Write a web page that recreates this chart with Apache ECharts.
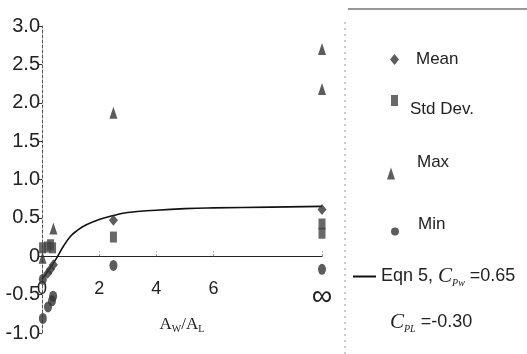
<!DOCTYPE html>
<html>
<head>
<meta charset="utf-8">
<script src="https://cdn.jsdelivr.net/npm/echarts@6/dist/echarts.min.js"></script>
<style>html,body{margin:0;padding:0;background:#fff}#c{width:527px;height:354px}</style>
</head>
<body>
<div id="c"></div>
<script>
// ---- data ----
const INF = 9.8; // position of the "∞" tick on the x axis
const meanX = [0.2, 0.3, 0.4, 2.5, INF];
const meanY = [-0.22, -0.17, -0.11, 0.47, 0.61];
const stdX = [0.02, 0.19, 0.3, 0.37, 2.5, INF, INF];
const stdY = [0.11, 0.12, 0.15, 0.11, 0.25, 0.30, 0.42];
const maxX = [0.02, 0.4, 2.5, INF, INF];
const maxY = [-0.02, 0.36, 1.87, 2.18, 2.70];
const minX = [0.03, 0.39, 0.35, 0.21, 0.03, 2.5, INF];
const minY = [-0.30, -0.52, -0.58, -0.66, -0.81, -0.12, -0.17];
const eqnX = [0, 0.25, 0.5, 0.75, 1.0, 1.25, 1.5, 2.0, 2.5, 3.0, 4.0, 5.0, 6.0, 8.0, INF];
const eqnY = [-0.30, -0.17, -0.03, 0.13, 0.26, 0.34, 0.40, 0.48, 0.53, 0.57, 0.60, 0.62, 0.63, 0.64, 0.65];
const xTickValues = [0, 2, 4, 6, INF];
const xTickLabels = ['0', '2', '4', '6', '∞'];
const yMin = -1.0, yMax = 3.0, yStep = 0.5;

const zip = (xs, ys) => xs.map((x, i) => [x, ys[i]]);
const INK = '#333';
const FONT = 'Liberation Sans';
const SERIF = 'Liberation Serif';

// legend text token with a vertical offset (dy > 0 moves text down) and a left gap
const legendText = (dy, gapLeft) => ({
  formatter: n => '{t|' + n + '}',
  textStyle: {
    rich: {
      t: { fontFamily: FONT, fontSize: 17, lineHeight: 18, color: '#222',
           padding: [dy > 0 ? 2 * dy : 0, 0, dy < 0 ? -2 * dy : 0, gapLeft] }
    }
  }
});

const chart = echarts.init(document.getElementById('c'));
chart.setOption({
  animation: false,
  backgroundColor: '#fff',
  grid: { left: 42, right: 205, top: 26, bottom: 21, containLabel: false, outerBoundsMode: 'none' },
  xAxis: {
    type: 'value', min: 0, max: INF,
    axisLine: { onZero: true, lineStyle: { color: '#222', width: 1.2 } },
    axisTick: { show: true, inside: true, length: 5, customValues: [2, 4, 6, INF],
                lineStyle: { color: '#888', type: [2, 2] } },
    axisLabel: {
      customValues: xTickValues,
      margin: -53,
      color: '#222', fontFamily: FONT, fontSize: 18,
      formatter: v => {
        const i = xTickValues.findIndex(t => Math.abs(t - v) < 1e-6);
        const s = i >= 0 ? xTickLabels[i] : '';
        return s === '∞' ? '{inf|∞}' : s;
      },
      rich: { inf: { fontFamily: FONT, fontSize: 29, color: '#222', padding: [2, 0, 0, 0] } }
    },
    splitLine: { show: false },
    name: '{a|A}{s|W}{a|/A}{s|L}',
    nameLocation: 'middle', nameGap: -21,
    nameTextStyle: {
      rich: {
        a: { fontFamily: SERIF, fontSize: 17, color: '#222' },
        s: { fontFamily: SERIF, fontSize: 10, color: '#222', padding: [10, 0, 0, 0] }
      }
    }
  },
  yAxis: {
    type: 'value', min: yMin, max: yMax, interval: yStep,
    axisLine: { show: true, onZero: false, lineStyle: { color: '#555', width: 1, type: [3, 2] } },
    axisTick: { show: true, length: 3, lineStyle: { color: '#333' } },
    axisLabel: {
      margin: 2, color: '#222', fontFamily: FONT, fontSize: 20,
      formatter: v => (Math.abs(v) < 1e-9 ? '0' : v.toFixed(1))
    },
    splitLine: { show: false }
  },
  legend: [
    Object.assign({ data: ['Mean'], left: 390, top: 51, padding: 0, icon: 'diamond', itemWidth: 9, itemHeight: 11 },
      legendText(0, 12)),
    Object.assign({ data: ['Std Dev.'], left: 391, top: 83, padding: 0, icon: 'rect', itemWidth: 7, itemHeight: 11 },
      legendText(9, 7)),
    Object.assign({ data: ['Max'], left: 387, top: 154, padding: 0, icon: 'triangle', itemWidth: 8, itemHeight: 12 },
      legendText(-11, 17)),
    Object.assign({ data: ['Min'], left: 391, top: 216, padding: 0, icon: 'circle', itemWidth: 8, itemHeight: 12 },
      legendText(-7, 14)),
    { data: ['Eqn 5'], left: 353, top: 266, padding: 0, icon: 'rect', itemWidth: 23, itemHeight: 2,
      formatter: () => '{n|Eqn 5, }{c|C}{s|Pw}{n| =0.65}',
      textStyle: {
        color: '#222',
        rich: {
          n: { fontFamily: FONT, fontSize: 18, color: '#222' },
          c: { fontFamily: SERIF, fontStyle: 'italic', fontSize: 21, color: '#222' },
          s: { fontFamily: SERIF, fontStyle: 'italic', fontSize: 10, color: '#222', padding: [14, 0, 0, 0] }
        }
      } }
  ],
  graphic: [
    { type: 'line', shape: { x1: 348, y1: 9, x2: 527, y2: 9 }, style: { stroke: '#333', lineWidth: 1.2 } },
    { type: 'line', shape: { x1: 345, y1: 22, x2: 345, y2: 354 }, style: { stroke: '#999', lineWidth: 1, lineDash: [2, 4] } },
    { type: 'text', x: 390, y: 322,
      style: {
        text: '{c|C}{s|PL}{n| =-0.30}', verticalAlign: 'middle',
        rich: {
          n: { fontFamily: FONT, fontSize: 18, fill: '#222' },
          c: { fontFamily: SERIF, fontStyle: 'italic', fontSize: 21, fill: '#222' },
          s: { fontFamily: SERIF, fontStyle: 'italic', fontSize: 10, fill: '#222', padding: [14, 0, 0, 0] }
        }
      } }
  ],
  series: [
    { name: 'Eqn 5', type: 'line', data: zip(eqnX, eqnY), smooth: true, showSymbol: false, symbol: 'none',
      lineStyle: { color: '#111', width: 1.6 }, itemStyle: { color: '#111' }, z: 2 },
    { name: 'Std Dev.', type: 'scatter', data: zip(stdX, stdY), symbol: 'rect', symbolSize: [7, 11],
      itemStyle: { color: '#444' }, z: 3 },
    { name: 'Mean', type: 'scatter', data: zip(meanX, meanY), symbol: 'diamond', symbolSize: [9, 11],
      itemStyle: { color: INK }, z: 4 },
    { name: 'Max', type: 'scatter', data: zip(maxX, maxY), symbol: 'triangle', symbolSize: [8, 12],
      itemStyle: { color: INK }, z: 4 },
    { name: 'Min', type: 'scatter', data: zip(minX, minY), symbol: 'circle', symbolSize: [8, 11],
      itemStyle: { color: INK }, z: 4 }
  ]
});
</script>
</body>
</html>
